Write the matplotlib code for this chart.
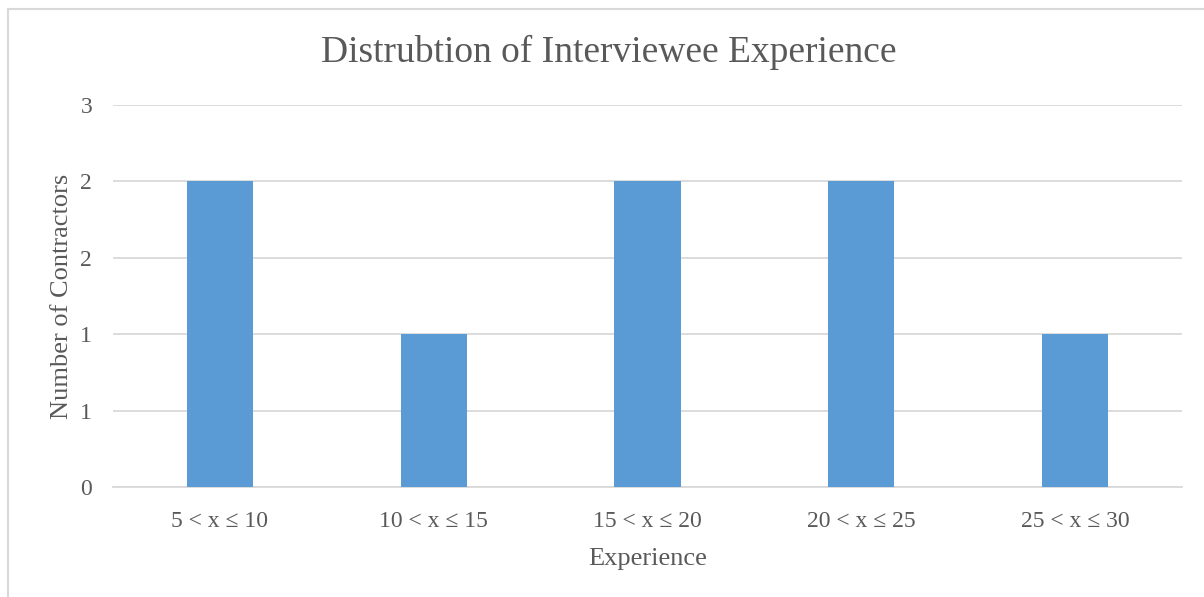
import matplotlib
matplotlib.use("Agg")
import matplotlib.pyplot as plt
from matplotlib.patches import Rectangle
from matplotlib.ticker import FixedLocator, FuncFormatter

categories = ["5 < x ≤ 10", "10 < x ≤ 15", "15 < x ≤ 20", "20 < x ≤ 25", "25 < x ≤ 30"]
counts = [2, 1, 2, 2, 1]
y_ticks = [0, 0.5, 1, 1.5, 2, 2.5]

plt.rcParams['font.family'] = ['Liberation Serif', 'DejaVu Serif']
txt = '#595959'
W, H = 1204, 597
fig = plt.figure(figsize=(W / 100, H / 100), dpi=100)
ax = fig.add_axes([113 / W, 1 - 487 / H, (1182 - 113) / W, (487 - 105) / H])

x = list(range(len(categories)))
ax.bar(x, counts, width=0.31, color='#5b9bd5', zorder=3)
ax.set_xlim(-0.5, len(categories) - 0.5)
ax.set_ylim(0, 2.5)
ax.yaxis.set_major_locator(FixedLocator(y_ticks))
ax.yaxis.set_major_formatter(FuncFormatter(lambda v, p: str(int(v + 0.5))))
ax.grid(axis='y', color='#d9d9d9', linewidth=1.3, zorder=0)
for s in ['top', 'right', 'left']:
    ax.spines[s].set_visible(False)
ax.spines['bottom'].set_color('#d9d9d9')
ax.spines['bottom'].set_linewidth(1.3)
ax.set_xticks(x)
ax.set_xticklabels(categories)
ax.tick_params(axis='both', length=0, labelsize=17, colors=txt)
ax.tick_params(axis='x', pad=17)
ax.tick_params(axis='y', pad=15)
ax.set_xlabel("Experience", fontsize=19, color=txt, labelpad=12)
ax.set_ylabel("Number of Contractors", fontsize=19, color=txt, labelpad=5)
fig.text(609 / W, 1 - 52 / H, "Distrubtion of Interviewee Experience", fontsize=27,
         color=txt, ha='center', va='center')

fig.patches.append(Rectangle((8 / W, -0.1), 1.2, 1 - 9 / H + 0.1, transform=fig.transFigure,
                             fill=False, edgecolor='#d9d9d9', linewidth=1.5))
fig.savefig("out.png", dpi=100)
